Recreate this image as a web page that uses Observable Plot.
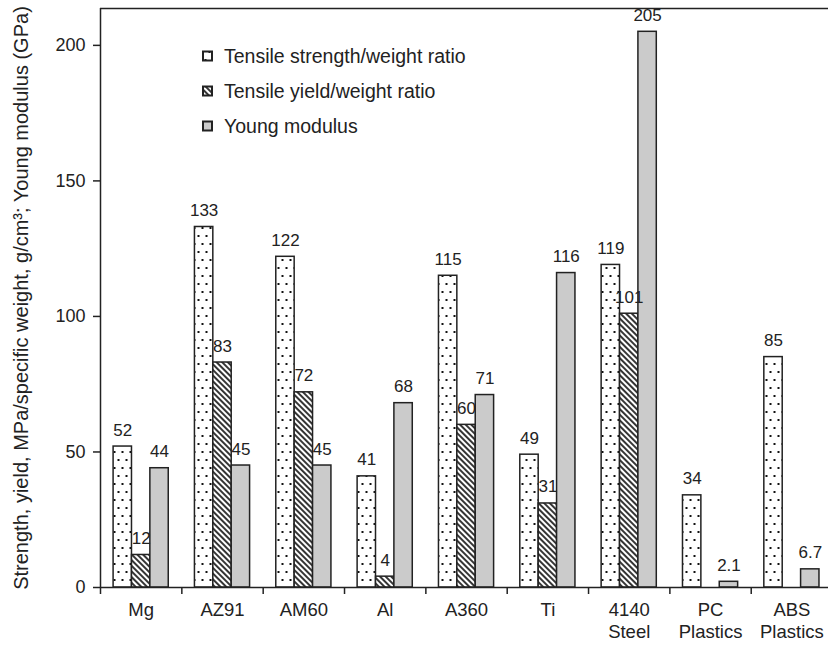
<!DOCTYPE html>
<html>
<head>
<meta charset="utf-8">
<script src="https://cdn.jsdelivr.net/npm/d3@7"></script>
<script src="https://cdn.jsdelivr.net/npm/@observablehq/plot@0.6"></script>
<style>
  html, body { margin: 0; padding: 0; background: #fff; }
  #wrap { position: relative; width: 828px; height: 647px; font-family: "Liberation Sans", Arial, sans-serif; }
  #legend { position: absolute; left: 0; top: 0; }
</style>
</head>
<body>
<svg width="0" height="0" style="position:absolute">
  <defs>
    <pattern id="dots" patternUnits="userSpaceOnUse" width="8" height="16">
      <rect width="8" height="16" fill="#fff"/>
      <rect x="1.5" y="3" width="2" height="2" fill="#111"/>
      <rect x="5.5" y="11" width="2" height="2" fill="#111"/>
    </pattern>
    <pattern id="hatch" patternUnits="userSpaceOnUse" width="4" height="4" patternTransform="rotate(-45)">
      <rect width="4" height="4" fill="#fff"/>
      <line x1="1" y1="0" x2="1" y2="4" stroke="#111" stroke-width="1.7"/>
    </pattern>
  </defs>
</svg>
<div id="wrap"></div>
<script>
const categories = ["Mg", "AZ91", "AM60", "Al", "A360", "Ti", "4140\nSteel", "PC\nPlastics", "ABS\nPlastics"];
const seriesNames = ["Tensile strength/weight ratio", "Tensile yield/weight ratio", "Young modulus"];
const strength = [52, 133, 122, 41, 115, 49, 119, 34, 85];
const yieldRatio = [12, 83, 72, 4, 60, 31, 101, null, null];
const modulus = [44, 45, 45, 68, 71, 116, 205, 2.1, 6.7];
const yTicks = [0, 50, 100, 150, 200];
const yTitle = "Strength, yield, MPa/specific weight, g/cm³; Young modulus (GPa)";

const seriesValues = [strength, yieldRatio, modulus];
const fills = ["url(#dots)", "url(#hatch)", "#cbcbcb"];
const rows = [];
seriesValues.forEach((vals, k) => vals.forEach((v, i) => {
  if (v != null) rows.push({i, k, series: seriesNames[k], value: v});
}));

const bw = 0.226;
const font = "Liberation Sans, Arial, sans-serif";
const bounds = d3.range(-0.5, 9, 1);
const centers = d3.range(0, 9);

const barMarks = [0, 1, 2].map(k => Plot.rectY(rows.filter(d => d.k === k), {
  x1: d => d.i + (d.k - 1.5) * bw,
  x2: d => d.i + (d.k - 0.5) * bw,
  y: "value",
  fill: fills[k],
  stroke: "#222",
  strokeWidth: 1.5
}));

const chart = Plot.plot({
  width: 828,
  height: 647,
  marginLeft: 100,
  marginRight: 0,
  marginTop: 8,
  marginBottom: 60,
  style: {fontFamily: font, color: "#222", background: "#fff"},
  x: {type: "linear", domain: [-0.5, 8.45], axis: null},
  y: {domain: [0, 213.6], axis: null},
  marks: [
    ...barMarks,
    Plot.text(rows, {
      x: d => d.i + (d.k - 1) * bw,
      y: "value",
      text: d => String(d.value),
      dy: -11,
      lineAnchor: "bottom",
      fontSize: 17,
      fill: "#222"
    }),
    Plot.ruleY([0], {stroke: "#222", strokeWidth: 1.5}),
    Plot.ruleY([213.6], {stroke: "#222", strokeWidth: 1.5}),
    Plot.ruleX([-0.5], {stroke: "#222", strokeWidth: 1.5}),
    Plot.axisX({ticks: bounds, tickSize: 7, tickFormat: () => "", strokeWidth: 1.5, stroke: "#222"}),
    Plot.axisX({ticks: centers, tickSize: 0, tickPadding: 13, tickFormat: i => categories[i], fontSize: 18.5, lineHeight: 1.2, label: null, fill: "#222"}),
    Plot.axisY({ticks: yTicks, tickSize: 7, tickPadding: 8, fontSize: 18, label: null, strokeWidth: 1.5, stroke: "#222", fill: "#222"}),
    Plot.text([yTitle], {frameAnchor: "left", textAnchor: "middle", dx: -79, rotate: -90, fontSize: 20, fill: "#222"})
  ]
});

const wrap = document.getElementById("wrap");
wrap.appendChild(chart);

// Legend overlay
const legend = d3.create("svg").attr("id", "legend").attr("width", 828).attr("height", 647)
  .style("pointer-events", "none");
const ly = [56, 91, 126];
seriesNames.forEach((name, k) => {
  const g = legend.append("g").attr("transform", `translate(203,${ly[k]})`);
  g.append("rect").attr("x", 0).attr("y", -4.5).attr("width", 9).attr("height", 9)
    .attr("fill", fills[k]).attr("stroke", "#222").attr("stroke-width", 2);
  g.append("text").attr("x", 21).attr("y", 0).attr("dy", "0.35em")
    .attr("font-family", font).attr("font-size", 19.5).attr("fill", "#222").text(name);
});
wrap.appendChild(legend.node());
</script>
</body>
</html>
